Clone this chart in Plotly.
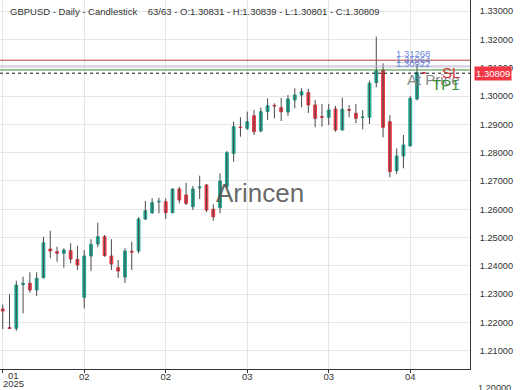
import plotly.graph_objects as go

# ---------------- data ----------------
opens = [1.22476, 1.21822, 1.21794, 1.23335, 1.23384, 1.23147, 1.23582, 1.24596, 1.24501, 1.24445,
         1.24536, 1.24232, 1.22889, 1.24349, 1.24773, 1.25031, 1.24349, 1.23935, 1.23607, 1.24515,
         1.24526, 1.25657, 1.25879, 1.26257, 1.26268, 1.25879, 1.26717, 1.26505, 1.26091, 1.26759,
         1.26858, 1.25999, 1.26056, 1.26798, 1.27978, 1.28908, 1.28862, 1.29307, 1.28767, 1.29449,
         1.29675, 1.29590, 1.29438, 1.29862, 1.30039, 1.30127, 1.29685, 1.29275, 1.29251, 1.29544,
         1.28802, 1.29518, 1.29392, 1.29245, 1.29251, 1.30473, 1.30922, 1.29095, 1.27364, 1.27883,
         1.28236, 1.29897, 1.30831]
highs = [1.22635, 1.22996, 1.23476, 1.23617, 1.23773, 1.23773, 1.25031, 1.25243, 1.24678, 1.24621,
         1.24798, 1.24713, 1.24561, 1.24939, 1.25526, 1.25091, 1.24939, 1.24208, 1.24621, 1.24854,
         1.25717, 1.26293, 1.26388, 1.26409, 1.26388, 1.26742, 1.26798, 1.26939, 1.26823, 1.27187,
         1.26893, 1.26176, 1.27272, 1.28060, 1.29095, 1.29251, 1.29449, 1.29509, 1.29590, 1.29922,
         1.29745, 1.29933, 1.30039, 1.30276, 1.30276, 1.30251, 1.29862, 1.29721, 1.29721, 1.29650,
         1.29950, 1.29685, 1.29721, 1.29509, 1.30544, 1.32099, 1.31159, 1.29332, 1.28155, 1.28625,
         1.30003, 1.31120, 1.30839]
lows = [1.21769, 1.21769, 1.21699, 1.22324, 1.23052, 1.22936, 1.23561, 1.24268, 1.24148, 1.23935,
        1.24091, 1.23854, 1.22501, 1.23819, 1.24656, 1.24324, 1.23854, 1.23571, 1.23395, 1.23854,
        1.24445, 1.25621, 1.25834, 1.25858, 1.25657, 1.25858, 1.26211, 1.26151, 1.25975, 1.26363,
        1.25904, 1.25596, 1.25858, 1.26752, 1.27682, 1.28565, 1.28802, 1.28625, 1.28721, 1.29155,
        1.29215, 1.29120, 1.29297, 1.29569, 1.29604, 1.29403, 1.28897, 1.28918, 1.28979, 1.28742,
        1.28784, 1.29251, 1.29039, 1.28827, 1.29014, 1.30311, 1.28544, 1.27130, 1.27247, 1.27448,
        1.28236, 1.29850, 1.30801]
closes = [1.22405, 1.21787, 1.23324, 1.23384, 1.23147, 1.23561, 1.24819, 1.24526, 1.24445, 1.24561,
          1.24243, 1.24031, 1.24349, 1.24762, 1.25031, 1.24360, 1.24066, 1.23819, 1.24526, 1.24490,
          1.25657, 1.25950, 1.26233, 1.26279, 1.25879, 1.26717, 1.26328, 1.26211, 1.26717, 1.26787,
          1.25975, 1.25738, 1.26999, 1.28000, 1.28919, 1.28887, 1.29095, 1.28742, 1.29449, 1.29661,
          1.29650, 1.29449, 1.29897, 1.30039, 1.30156, 1.29685, 1.29215, 1.29255, 1.29509, 1.28802,
          1.29533, 1.29500, 1.29215, 1.29258, 1.30452, 1.30897, 1.28897, 1.27328, 1.27883, 1.28272,
          1.29922, 1.30827, 1.30809]

tick_index = [0, 12, 24, 36, 48, 60]
tick_labels = ["01", "02", "02", "03", "03", "04"]
year_label = "2025"

sl_price = 1.31268
at_price = 1.31064
tp1_price = 1.30922
last_price = 1.30809

title_text = ("GBPUSD - Daily - Candlestick\u00a0\u00a0\u00a0\u00a063/63 - O:1.30831 - "
              "H:1.30839 - L:1.30801 - C:1.30809")
watermark = "Arincen"

# ---------------- figure ----------------
FONT = "Liberation Sans, Arial, sans-serif"
GREEN = "#22ab94"
RED = "#f23645"
n = len(opens)
xs = list(range(n))

wick_x, wick_y = [], []
for i in xs:
    wick_x += [i, i, None]
    wick_y += [lows[i], highs[i], None]

body_hi = [max(o, c) for o, c in zip(opens, closes)]
body_lo = [min(o, c) for o, c in zip(opens, closes)]

fig = go.Figure()
fig.add_trace(go.Scatter(x=wick_x, y=wick_y, mode="lines",
                         line=dict(color="#4a4a4a", width=1),
                         hoverinfo="skip", showlegend=False))
fig.add_trace(go.Candlestick(
    x=xs, open=opens, high=body_hi, low=body_lo, close=closes,
    increasing=dict(line=dict(color=GREEN, width=1), fillcolor=GREEN),
    decreasing=dict(line=dict(color=RED, width=1), fillcolor=RED),
    whiskerwidth=0, showlegend=False))

# horizontal level lines
for price, col, dash in [(sl_price, "#b04444", "solid"),
                         (at_price, "#b4acc8", "solid"),
                         (tp1_price, "#3a8d3a", "solid"),
                         (last_price, "#111111", "dot")]:
    fig.add_shape(type="line", xref="paper", x0=0, x1=1, yref="y", y0=price, y1=price,
                  line=dict(color=col, width=1, dash=dash), layer="above")

ann = []
# header
ann.append(dict(text=title_text, xref="paper", yref="paper", x=8 / 470, y=1 - 12 / 369,
                xanchor="left", yanchor="middle", showarrow=False,
                font=dict(family=FONT, size=9.5, color="#333333")))
# watermark
ann.append(dict(text=watermark, xref="paper", yref="paper", x=260 / 470, y=1 - 193 / 369,
                xanchor="center", yanchor="middle", showarrow=False,
                font=dict(family=FONT, size=26, color="rgba(85,85,85,0.9)")))
# level price labels
for price, ys in [(sl_price, 7), (at_price, 6.5), (tp1_price, 6.5)]:
    ann.append(dict(text=f"{price:.5f}", xref="x", yref="y", x=60.4, y=price, yshift=ys,
                    xanchor="center", yanchor="middle", showarrow=False,
                    font=dict(family=FONT, size=9.5, color="#6a86d6")))
# level names
for txt, price, col, ys in [("At Price", at_price, "#8a8a8a", -14),
                            ("SL", sl_price, "#d03838", -12),
                            ("TP1", tp1_price, "#3a8d3a", -14)]:
    ann.append(dict(text=txt, xref="paper", yref="y", x=462 / 470, y=price, yshift=ys,
                    xanchor="right", yanchor="middle", showarrow=False,
                    font=dict(family=FONT, size=15, color=col)))
# last price box
ann.append(dict(text=f"{last_price:.5f}", xref="paper", yref="y", x=1, xshift=4, y=last_price,
                xanchor="left", yanchor="middle", showarrow=False, bgcolor=RED, borderpad=1,
                font=dict(family=FONT, size=9.5, color="white")))
# first x label (left aligned in the reference)
ann.append(dict(text=tick_labels[0], xref="paper", yref="paper", x=13.5 / 470, y=0, yshift=-6.5,
                xanchor="center", yanchor="middle", showarrow=False,
                font=dict(family=FONT, size=9.5, color="#333333")))
ann.append(dict(text=year_label, xref="paper", yref="paper", x=13.5 / 470, y=0, yshift=-14.5,
                xanchor="center", yanchor="middle", showarrow=False,
                font=dict(family=FONT, size=9.5, color="#333333")))
# partially visible bottom y label
ann.append(dict(text="1.20000", xref="paper", yref="paper", x=1, xshift=6, y=0, yshift=-19,
                xanchor="left", yanchor="middle", showarrow=False,
                font=dict(family=FONT, size=9.2, color="#333333")))

fig.update_layout(
    width=520, height=390,
    margin=dict(l=0, r=50, t=0, b=21),
    paper_bgcolor="white", plot_bgcolor="white",
    showlegend=False, boxgap=0.4,
    annotations=ann,
    font=dict(family=FONT, size=9.5, color="#333333"),
)
fig.update_xaxes(range=[-0.4, 68.8], tickmode="array", tickvals=tick_index,
                 ticktext=[""] + tick_labels[1:],
                 showgrid=True, gridcolor="#e6e6e6", gridwidth=1,
                 showline=True, linecolor="#333333", linewidth=1,
                 ticks="outside", ticklen=3, tickcolor="#333333",
                 ticklabelstandoff=-4,
                 tickfont=dict(family=FONT, size=9.5, color="#333333"),
                 rangeslider=dict(visible=False), zeroline=False, fixedrange=True)
fig.update_yaxes(range=[1.20356, 1.33396], side="right", tickmode="linear",
                 tick0=1.2, dtick=0.01, tickformat=".5f",
                 showgrid=True, gridcolor="#e6e6e6", gridwidth=1,
                 showline=True, linecolor="#333333", linewidth=1,
                 ticks="", ticklabelstandoff=7,
                 tickfont=dict(family=FONT, size=9.2, color="#333333"),
                 zeroline=False, fixedrange=True)

fig.write_html("out.html", config={"displayModeBar": False},
               post_script="document.body.style.margin='0';document.body.style.overflow='hidden';")
